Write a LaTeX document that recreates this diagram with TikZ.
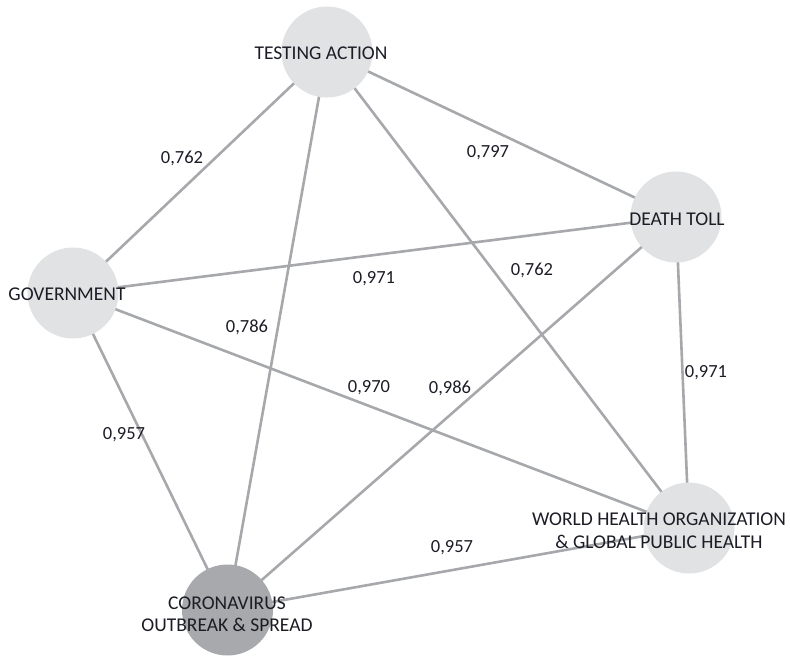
\documentclass[tikz,border=0pt]{standalone}
\usepackage{fontspec}
\setmainfont{Carlito}
\usetikzlibrary{backgrounds}
\definecolor{linkgray}{HTML}{A6A8AB}
\definecolor{nodelight}{HTML}{E1E2E4}
\definecolor{nodedark}{HTML}{A7A9AC}
\definecolor{ink}{HTML}{1C1C26}
\tikzset{
  topic/.style={circle, fill=nodelight, minimum size=91pt, inner sep=0pt},
  hub/.style={topic, fill=nodedark},
  topictext/.style={text=ink, align=center, inner sep=0pt,
    font=\fontsize{19.5}{22.5}\selectfont},
  weight/.style={text=ink, inner sep=1pt, font=\fontsize{18.5}{20}\selectfont},
  link/.style={draw=linkgray, line width=2.6pt}
}
\begin{document}
\begin{tikzpicture}[x=1pt,y=-1pt]
  \useasboundingbox (0,0) rectangle (790,656);

  % topic circles
  \node[topic] (ta)  at (327,52)   {};
  \node[topic] (dt)  at (676,217)  {};
  \node[topic] (gov) at (73,293)   {};
  \node[topic] (who) at (689,528)  {};
  \node[hub]   (co)  at (227.5,610) {};

  % topic names
  \node[topictext] (ta-t)  at (321,53)  {TESTING ACTION};
  \node[topictext] (dt-t)  at (677,219) {DEATH TOLL};
  \node[topictext] (gov-t) at (67,294)  {GOVERNMENT};
  \node[topictext] (who-t) at (659,530.5) {WORLD HEALTH ORGANIZATION\\\& GLOBAL PUBLIC HEALTH};
  \node[topictext] (co-t)  at (227,614) {CORONAVIRUS\\OUTBREAK \& SPREAD};

  % links between topics, kept behind the circles
  \begin{pgfonlayer}{background}
    \draw[link] (gov.center) -- (ta.center);
    \draw[link] (ta.center) -- (dt.center);
    \draw[link] (gov.center) -- (dt.center);
    \draw[link] (ta.center) -- (who.center);
    \draw[link] (ta.center) -- (co.center);
    \draw[link] (gov.center) -- (who.center);
    \draw[link] (dt.center) -- (co.center);
    \draw[link] (dt.center) -- (who.center);
    \draw[link] (gov.center) -- (co.center);
    \draw[link] (co.center) -- (who.center);
  \end{pgfonlayer}

  % link weights
  \node[weight] (w-gov-ta)  at (182,158) {0,762};
  \node[weight] (w-ta-dt)   at (488,153) {0,797};
  \node[weight] (w-gov-dt)  at (374,279) {0,971};
  \node[weight] (w-ta-who)  at (532,270) {0,762};
  \node[weight] (w-ta-co)   at (247,327) {0,786};
  \node[weight] (w-gov-who) at (369,388) {0,970};
  \node[weight] (w-dt-co)   at (450,388) {0,986};
  \node[weight] (w-dt-who)  at (706,373) {0,971};
  \node[weight] (w-gov-co)  at (124,435) {0,957};
  \node[weight] (w-co-who)  at (452,548) {0,957};
\end{tikzpicture}
\end{document}
